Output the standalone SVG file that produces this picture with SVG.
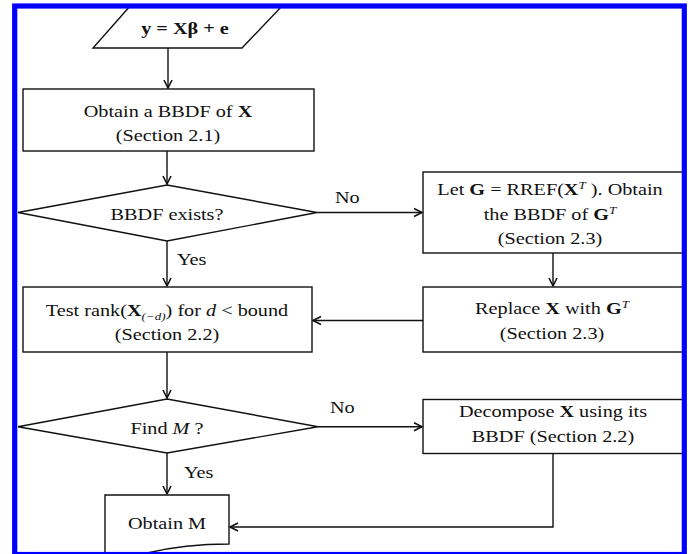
<svg xmlns="http://www.w3.org/2000/svg" width="689" height="554" viewBox="0 0 689 554">
  <style>
    .shape { fill: #fff; stroke: #111; stroke-width: 1.4; }
    .conn { fill: none; stroke: #111; stroke-width: 1.4; }
    .t { font-family: "Liberation Serif", "Times New Roman", serif; font-size: 17px; fill: #111; text-anchor: middle; }
    .l { font-family: "Liberation Serif", "Times New Roman", serif; font-size: 17px; fill: #111; text-anchor: start; }
    .b { font-weight: bold; }
    .i { font-style: italic; }
    .s { font-size: 11px; }
  </style>
  <defs>
    <marker id="arrow" viewBox="-10 -6 12 12" refX="0" refY="0" markerWidth="12" markerHeight="12" markerUnits="userSpaceOnUse" orient="auto">
      <path d="M-8,-4 L0,0 L-8,4" fill="none" stroke="#111" stroke-width="1.6"/>
    </marker>
  </defs>

  <rect width="689" height="554" fill="#fff"/>

  <!-- connectors -->
  <g id="connectors">
    <line class="conn" x1="168" y1="48" x2="168" y2="88" marker-end="url(#arrow)"/>
    <line class="conn" x1="167" y1="151" x2="167" y2="184" marker-end="url(#arrow)"/>
    <line class="conn" x1="317" y1="212.5" x2="422" y2="212.5" marker-end="url(#arrow)"/>
    <line class="conn" x1="167" y1="241" x2="167" y2="286" marker-end="url(#arrow)"/>
    <line class="conn" x1="553" y1="253" x2="553" y2="286" marker-end="url(#arrow)"/>
    <line class="conn" x1="423" y1="320.5" x2="313" y2="320.5" marker-end="url(#arrow)"/>
    <line class="conn" x1="167" y1="352" x2="167" y2="398" marker-end="url(#arrow)"/>
    <line class="conn" x1="318" y1="426.7" x2="422" y2="426.7" marker-end="url(#arrow)"/>
    <line class="conn" x1="167" y1="453" x2="167" y2="494" marker-end="url(#arrow)"/>
    <polyline class="conn" points="553,453 553,527 230,527" marker-end="url(#arrow)"/>
    <text class="l" transform="translate(335,202.5) scale(1.19,1)">No</text>
    <text class="l" transform="translate(177,265) scale(1.19,1)">Yes</text>
    <text class="l" transform="translate(330,413) scale(1.19,1)">No</text>
    <text class="l" transform="translate(184,478) scale(1.19,1)">Yes</text>
  </g>

  <!-- input: model equation -->
  <g id="input">
    <polygon class="shape" points="131,5 283,5 242,48 93,48"/>
    <text class="t b" transform="translate(185,34) scale(1.19,1)">y = Xβ + e</text>
  </g>

  <g id="obtain-bbdf">
    <rect class="shape" x="23" y="89" width="291" height="62"/>
    <text class="t" transform="translate(168,116.5) scale(1.19,1)">Obtain a BBDF of <tspan class="b">X</tspan></text>
    <text class="t" transform="translate(168,140.5) scale(1.19,1)">(Section 2.1)</text>
  </g>

  <g id="bbdf-exists">
    <polygon class="shape" points="167,185 317,212.5 167,241 18,212.5"/>
    <text class="t" transform="translate(167,220) scale(1.19,1)">BBDF exists?</text>
  </g>

  <g id="rref">
    <rect class="shape" x="423" y="172" width="262" height="81"/>
    <text class="t" transform="translate(550,195) scale(1.19,1)">Let <tspan class="b">G</tspan> = RREF(<tspan class="b">X</tspan><tspan class="i s" dy="-6">T</tspan><tspan dy="6"> ). Obtain</tspan></text>
    <text class="t" transform="translate(550,219.5) scale(1.19,1)">the BBDF of <tspan class="b">G</tspan><tspan class="i s" dy="-6">T</tspan></text>
    <text class="t" transform="translate(550,244) scale(1.19,1)">(Section 2.3)</text>
  </g>

  <g id="test-rank">
    <rect class="shape" x="23" y="287" width="289" height="65"/>
    <text class="t" transform="translate(167,315.5) scale(1.19,1)">Test rank(<tspan class="b">X</tspan><tspan class="i s" dy="4">(−d)</tspan><tspan dy="-4">) for </tspan><tspan class="i">d</tspan> &lt; bound</text>
    <text class="t" transform="translate(167,340) scale(1.19,1)">(Section 2.2)</text>
  </g>

  <g id="replace-x">
    <rect class="shape" x="423" y="287" width="262" height="65"/>
    <text class="t" transform="translate(552,313.5) scale(1.19,1)">Replace  <tspan class="b">X</tspan> with <tspan class="b">G</tspan><tspan class="i s" dy="-6">T</tspan></text>
    <text class="t" transform="translate(552,338.5) scale(1.19,1)">(Section 2.3)</text>
  </g>

  <g id="find-m">
    <polygon class="shape" points="167,399 318,426.7 167,453 18,426.7"/>
    <text class="t" transform="translate(167,434) scale(1.19,1)">Find <tspan class="i">M</tspan> ?</text>
  </g>

  <g id="decompose">
    <rect class="shape" x="423" y="399.5" width="262" height="54"/>
    <text class="t" transform="translate(553,417) scale(1.19,1)">Decompose <tspan class="b">X</tspan> using its</text>
    <text class="t" transform="translate(553,442) scale(1.19,1)">BBDF (Section 2.2)</text>
  </g>

  <g id="obtain-m">
    <path class="shape" d="M105,495 H229 V544 C205,544 172,547 147,553 C128,558 112,560 105,560 Z"/>
    <text class="t" transform="translate(167,528.5) scale(1.19,1)">Obtain M</text>
  </g>

  <!-- frame -->
  <rect x="14.7" y="6" width="669.6" height="548.5" fill="none" stroke="#0000ff" stroke-width="5.2"/>
</svg>
